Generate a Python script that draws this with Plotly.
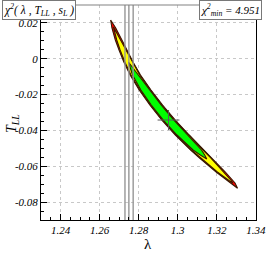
import plotly.graph_objects as go

# ---- data ----
# outer (red) contour: centre lambda, T and half-width in lambda
T_red = [0.02163, 0.01716, 0.01047, 0.00488, -0.00181, -0.00907, -0.01744, -0.02581,
         -0.03419, -0.04256, -0.05093, -0.05540, -0.06321, -0.06935, -0.07231]
lam_red = [1.26566, 1.26730, 1.26975, 1.27195, 1.27477, 1.27830, 1.28331, 1.28899,
           1.29528, 1.30234, 1.31002, 1.31432, 1.32204, 1.32823, 1.33064]
hw_red = [0, 0.00097, 0.00169, 0.00200, 0.00235, 0.00266, 0.00302, 0.00327,
          0.00348, 0.00353, 0.00338, 0.00312, 0.00235, 0.00113, 0]

# middle (yellow) contour
T_yel = [0.01772, 0.01047, 0.00488, -0.00181, -0.00907, -0.01744, -0.02581, -0.03419,
         -0.04256, -0.05093, -0.05540, -0.06321, -0.06823, -0.06935]
lam_yel = [1.26709, 1.26975, 1.27195, 1.27477, 1.27830, 1.28331, 1.28899, 1.29528,
           1.30234, 1.31002, 1.31432, 1.32204, 1.32711, 1.32823]
hw_yel = [0, 0.00097, 0.00143, 0.00184, 0.00225, 0.00261, 0.00287, 0.00307,
          0.00312, 0.00297, 0.00271, 0.00174, 0.00051, 0]

# inner (green) contour
T_grn = [-0.00181, -0.00907, -0.01744, -0.02581, -0.03419, -0.04256, -0.05093, -0.05372, -0.05595]
lam_grn = [1.27477, 1.27830, 1.28331, 1.28899, 1.29528, 1.30234, 1.31002, 1.31271, 1.31488]
hw_grn = [0, 0.00143, 0.00215, 0.00251, 0.00266, 0.00271, 0.00215, 0.00113, 0]

# vertical lambda bands
lam_lines = [1.2730, 1.2750, 1.2772]

# best-fit point and its error cross
best_lam = 1.2953
best_T = -0.0342
cross_dlam = 0.0056
cross_dT = 0.0056

chi2_min = 4.951

x_ticks = [1.24, 1.26, 1.28, 1.30, 1.32, 1.34]
x_ticktext = ["1.24", "1.26", "1.28", "1.3", "1.32", "1.34"]
y_ticks = [0.02, 0.0, -0.02, -0.04, -0.06, -0.08]
y_ticktext = ["0.02", "0", "-0.02", "-0.04", "-0.06", "-0.08"]

X_RANGE = [1.23, 1.3401]
Y_RANGE = [-0.09, 0.03]

SERIF = "Liberation Serif, Times New Roman, serif"
OUTLINE = "rgb(55,25,0)"

fig = go.Figure()


def band(lam, T, hw, color):
    xs = [l + h for l, h in zip(lam, hw)] + [l - h for l, h in zip(lam[::-1], hw[::-1])]
    ys = list(T) + list(T[::-1])
    fig.add_trace(go.Scatter(x=xs, y=ys, mode="lines", fill="toself", fillcolor=color,
                             line=dict(color=OUTLINE, width=1.1),
                             hoverinfo="skip", showlegend=False))


band(lam_red, T_red, hw_red, "rgb(255,0,0)")
band(lam_yel, T_yel, hw_yel, "rgb(255,255,0)")
band(lam_grn, T_grn, hw_grn, "rgb(0,255,0)")

for lv in lam_lines:
    fig.add_trace(go.Scatter(x=[lv, lv], y=Y_RANGE, mode="lines",
                             line=dict(color="rgb(150,150,150)", width=1.4),
                             hoverinfo="skip", showlegend=False))

fig.add_trace(go.Scatter(x=[best_lam - cross_dlam, best_lam + cross_dlam], y=[best_T, best_T],
                         mode="lines", line=dict(color="rgb(90,90,90)", width=1),
                         hoverinfo="skip", showlegend=False))
fig.add_trace(go.Scatter(x=[best_lam, best_lam], y=[best_T - cross_dT, best_T + cross_dT],
                         mode="lines", line=dict(color="rgb(90,90,90)", width=1),
                         hoverinfo="skip", showlegend=False))

PL, PR, PT, PB = 41, 10, 5, 33
W, H = 266, 253
pw = W - PL - PR
ph = H - PT - PB

fig.update_layout(
    width=W, height=H,
    margin=dict(l=PL, r=PR, t=PT, b=PB, pad=0, autoexpand=False),
    paper_bgcolor="white", plot_bgcolor="white",
    showlegend=False,
)
axis_common = dict(
    showline=True, linecolor="black", linewidth=1,
    ticks="inside", ticklen=6, tickcolor="black", tickwidth=1,
    showgrid=True, gridcolor="rgb(200,200,200)", griddash="dot", gridwidth=1,
    zeroline=False, automargin=False,
    tickfont=dict(family=SERIF, size=11, color="black", style="italic"),
    minor=dict(ticks="inside", ticklen=3, tickcolor="black", dtick=0.005, showgrid=False),
)
fig.update_xaxes(range=X_RANGE, tickvals=x_ticks, ticktext=x_ticktext, **axis_common)
fig.update_yaxes(range=Y_RANGE, tickvals=y_ticks, ticktext=y_ticktext, mirror=True, **axis_common)
fig.update_xaxes(minor=dict(tick0=1.23))
fig.update_yaxes(minor=dict(tick0=0.0))

# top frame line (grey)
fig.add_shape(type="line", xref="paper", yref="paper", x0=0, x1=1, y0=1, y1=1,
              line=dict(color="rgb(130,130,130)", width=1.2))

# axis titles
fig.add_annotation(text="λ", xref="paper", yref="paper",
                   x=(148 - PL) / pw, y=(H - PB - 244) / ph, showarrow=False,
                   xanchor="center", yanchor="middle",
                   font=dict(family=SERIF, size=15, color="black"))
fig.add_annotation(text="<i>T<sub>LL</sub></i>", xref="paper", yref="paper",
                   x=(12 - PL) / pw, y=(H - PB - 123) / ph, showarrow=False, textangle=-90,
                   xanchor="center", yanchor="middle",
                   font=dict(family=SERIF, size=14, color="black"))

# label boxes
fig.add_annotation(text="<i>χ<sup>2</sup>( λ , T<sub>LL</sub> , s<sub>L</sub> )</i>",
                   xref="paper", yref="paper", x=(2 - PL) / pw, y=(H - PB - 0) / ph,
                   xanchor="left", yanchor="top", showarrow=False,
                   bgcolor="white", bordercolor="rgb(120,120,120)", borderwidth=1, borderpad=1,
                   font=dict(family=SERIF, size=11.5, color="black"))
fig.add_annotation(text="<i>χ<sup>2</sup><sub>min</sub> = %.3f</i>" % chi2_min,
                   xref="paper", yref="paper", x=(262 - PL) / pw, y=(H - PB - 0) / ph,
                   xanchor="right", yanchor="top", showarrow=False,
                   bgcolor="white", bordercolor="rgb(120,120,120)", borderwidth=1, borderpad=1,
                   font=dict(family=SERIF, size=11, color="black"))

fig.write_html("out.html", config={"displayModeBar": False},
               post_script="document.body.style.margin='0px';document.body.style.overflow='hidden';")
